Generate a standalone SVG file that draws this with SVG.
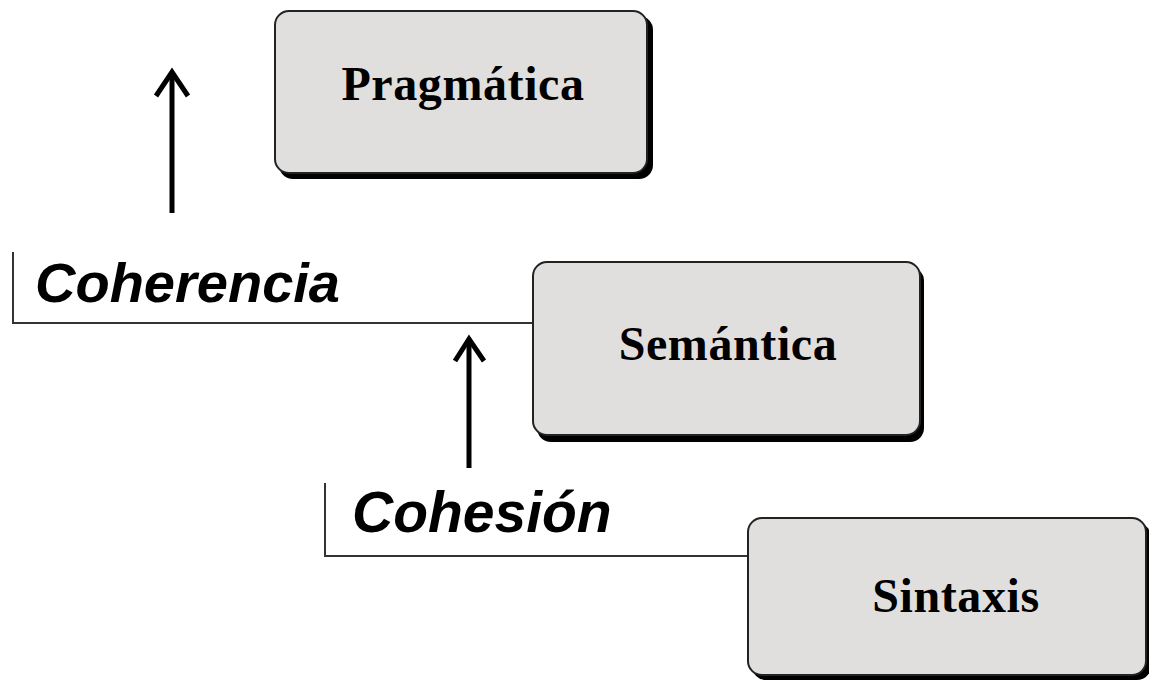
<svg xmlns="http://www.w3.org/2000/svg" width="1149" height="680" viewBox="0 0 1149 680">
  <style>
    .shadow { fill: #000; }
    .box { fill: #e0dfde; stroke: #222; stroke-width: 2; }
    .lbl { font-family: "Liberation Serif", "Times New Roman", serif; font-weight: bold; font-size: 48px; fill: #000; text-anchor: middle; letter-spacing: 0.6px; }
    .term { font-family: "Liberation Sans", Arial, sans-serif; font-weight: bold; font-style: italic; fill: #000; }
    .bracket { fill: none; stroke: #333; stroke-width: 2; }
    .shaft { stroke: #000; stroke-width: 5; fill: none; }
    .head { stroke: #000; stroke-width: 5; fill: none; stroke-linejoin: miter; }
  </style>
  <rect width="1149" height="680" fill="#fff"/>

  <g id="connectors">
    <path class="bracket" d="M13,252 V323 H533"/>
    <path class="bracket" d="M325,483 V556 H748"/>
    <g id="arrow1">
      <line class="shaft" x1="172" y1="74" x2="172" y2="213"/>
      <polyline class="head" points="156,96 172,72 188,96"/>
    </g>
    <g id="arrow2">
      <line class="shaft" x1="469" y1="341" x2="469" y2="468"/>
      <polyline class="head" points="455,361 469,339 484,361"/>
    </g>
  </g>

  <g id="pragmatica">
    <rect class="shadow" x="279" y="16" width="374" height="163" rx="14"/>
    <rect class="box" x="275" y="11" width="372" height="162" rx="14"/>
    <text class="lbl" x="463" y="100">Pragmática</text>
  </g>

  <g id="coherencia">
    <text class="term" x="35" y="302" font-size="56">Coherencia</text>
  </g>

  <g id="semantica">
    <rect class="shadow" x="537" y="267" width="387" height="175" rx="14"/>
    <rect class="box" x="533" y="262" width="387" height="173" rx="14"/>
    <text class="lbl" x="728" y="360">Semántica</text>
  </g>

  <g id="cohesion">
    <text class="term" x="352" y="532" font-size="57">Cohesión</text>
  </g>

  <g id="sintaxis">
    <rect class="shadow" x="752" y="523" width="399" height="157" rx="14"/>
    <rect class="box" x="748" y="518" width="398" height="157" rx="14"/>
    <text class="lbl" x="956" y="612">Sintaxis</text>
  </g>
</svg>
